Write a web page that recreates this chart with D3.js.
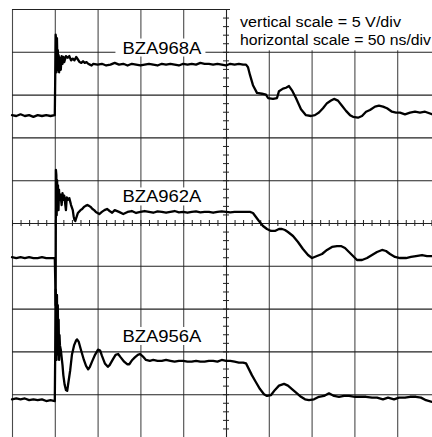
<!DOCTYPE html>
<html>
<head>
<meta charset="utf-8">
<script src="https://cdn.jsdelivr.net/npm/d3@7"></script>
<style>
  html, body { margin: 0; padding: 0; background: #fff; }
  svg { display: block; }
  text { font-family: "Liberation Sans", Arial, Helvetica, sans-serif; fill: #000; }
</style>
</head>
<body>
<svg id="chart" width="432" height="437"></svg>
<script>
// ---- Scope settings ----
const timePerDiv = 50;      // ns/div
const voltPerDiv = 5;       // V/div
const xDivs = 10, yDivs = 10;
const scaleNotes = ["vertical scale = 5 V/div", "horizontal scale = 50 ns/div"];
const traceNames = ["BZA968A", "BZA962A", "BZA956A"];

// ---- Waveforms: [time (ns), screen voltage (V, centre = 0)] ----
const traceBZA968A = [
  [0,12.6],[5,12.5],[10,12.7],[15,12.5],[20,12.6],[25,12.4],[30,12.6],[35,12.5],[40,12.6],[45,12.5],[50,12.6],
  [50.5,17.0],[51,22.0],[51.5,21.4],[52,17.6],[52.5,21.6],[53,19.0],[53.5,20.2],[54,17.9],[54.5,19.6],[55,17.6],
  [56,19.3],[57,17.9],[58,19.5],[59,18.6],[60,19.4],[61,18.8],
  [63,19.5],[65,19.3],[67,19.5],[69,19.0],[71,19.2],[73,19.0],[75,19.4],[77,19.1],[79,18.8],[81,18.7],[83,18.9],
  [85,18.7],[87,18.8],[89,18.6],[91,18.5],[93,18.4],[95,18.6],
  [100,18.5],[105,18.6],[110,18.4],[115,18.5],[120,18.7],[125,18.5],[130,18.6],[135,18.4],[140,18.6],[145,18.5],
  [150,18.4],[155,18.5],[160,18.6],[165,18.5],[170,18.4],[175,18.6],[180,18.5],[185,18.6],[190,18.5],[195,18.4],
  [200,18.6],[205,18.5],[210,18.6],[215,18.5],[220,18.7],[225,18.6],[230,18.6],[235,18.5],[240,18.6],[245,18.5],
  [250,18.4],[255,18.6],[260,18.5],[265,18.6],[270,18.5],
  [273.4,18.5],[275.7,18.2],[278,17.3],[281.5,16.1],[286.2,15.2],[292.1,15.1],[296.7,15.0],[299.1,14.6],[304.9,14.5],
  [309.6,14.6],[311.9,15.4],[316.6,15.7],[320.1,15.8],[323.6,16.0],[327.1,15.5],[331.7,14.6],[337.6,13.3],[343.4,12.6],
  [349.3,12.5],[353.9,12.6],[358.6,12.9],[363.3,13.4],[368,14.0],[372.7,14.3],[376.2,14.5],[380.8,14.3],[385.5,13.7],
  [390.2,13.1],[394.9,12.6],[398.4,12.4],[404.2,12.3],[408.9,12.5],[413.6,13.0],[418.2,13.2],[424.1,13.6],[428.7,13.7],
  [433.4,13.6],[438.1,13.4],[443.9,13.0],[448.6,12.9],[453.3,12.9],[459.1,12.7],[465,12.9],[470.8,13.0],[476.6,12.9],
  [482.5,13.0],[490.7,12.7],[500,12.8]
];

const traceBZA962A = [
  [0,-4.0],[5,-4.1],[10,-4.0],[15,-4.1],[20,-4.0],[25,-4.1],[30,-4.1],[35,-4.0],[40,-4.1],[45,-4.1],[50,-4.1],
  [50.5,-6.5],[51,-9.6],[51.3,6.2],[51.8,5.6],[52.2,0.9],[52.7,5.0],[53.2,2.1],[53.7,4.4],[54.3,1.5],[54.9,3.9],
  [55.5,2.7],[56.7,3.3],[58,2.1],[59,3.5],[60,2.7],[61,3.2],[63,1.5],[64,3.0],[65,2.7],[67,2.9],[68,2.5],[69,2.1],
  [71,1.5],[72,0.8],[73,0.35],[74,0.23],[75,0.58],[77,1.17],[80,1.5],[82,1.64],[84,1.87],[86,2.0],[88,2.1],[90,2.0],
  [92,1.87],[94,1.64],[96,1.5],[98,1.29],[100,1.17],[102,1.05],[105,1.3],[108,1.5],[111,1.64],[114,1.4],[117,1.2],
  [120,1.5],[125,1.3],[130,1.05],[135,1.29],[140,1.4],[145,1.17],[150,1.29],
  [155,1.4],[160,1.3],[165,1.2],[170,1.35],[175,1.3],[180,1.2],[185,1.3],[190,1.4],[195,1.25],[200,1.3],[205,1.2],
  [210,1.3],[215,1.35],[220,1.25],[225,1.3],[230,1.3],[235,1.2],[240,1.3],[245,1.35],[250,1.3],[255,1.25],[260,1.3],
  [265,1.3],[270,1.3],
  [278,1.29],[281.5,1.17],[285,0.7],[288.5,0.23],[293.2,-0.35],[297.9,-0.7],[302.6,-0.93],[307.2,-0.93],[311.9,-0.7],
  [315.4,-0.7],[318.9,-0.82],[322.4,-1.05],[328.3,-1.52],[334.1,-2.22],[339.9,-3.04],[345.8,-3.74],[350.5,-4.09],
  [356.3,-3.86],[362.2,-3.62],[368,-3.15],[373.8,-2.8],[379.7,-2.69],[384.3,-2.69],[389,-2.92],[393.7,-3.39],
  [398.4,-3.86],[403,-4.32],[408.9,-4.32],[414.8,-4.09],[420.6,-3.74],[426.4,-3.39],[432.3,-3.15],[436.9,-3.27],
  [441.6,-3.62],[447.4,-3.97],[453.3,-4.09],[460.3,-4.09],[466.1,-3.97],[471.9,-3.86],[479,-3.74],[484.8,-3.86],
  [490.7,-3.86],[500,-3.8]
];

const traceBZA956A = [
  [0,-20.6],[5,-20.5],[10,-20.6],[15,-20.5],[20,-20.7],[25,-20.6],[30,-20.7],[35,-20.6],[40,-20.8],[45,-20.7],[50,-20.8],
  [50.5,-15.0],[51,-7.8],[51.5,-9.0],[52,-16.0],[52.5,-8.4],[53,-14.3],[53.5,-9.6],[54,-15.4],[54.5,-11.3],[55,-16.0],
  [55.5,-13.1],[56,-14.3],[57,-14.8],[59,-16.6],[60,-17.8],[61.5,-18.9],[63,-19.5],[64.5,-19.6],[65.5,-18.9],[68,-17.2],
  [70,-15.4],[72.5,-14.3],[75,-13.7],[76,-13.6],[78,-13.9],[80.5,-14.8],[84,-16.0],[86.5,-16.7],[89,-17.1],[91,-16.8],
  [93.5,-16.2],[97,-15.4],[100.5,-14.8],[103,-14.9],[105,-15.5],[108.5,-16.4],[112,-16.8],[114,-16.6],[118,-15.9],
  [121,-15.4],[124,-15.3],[127,-15.7],[131,-16.2],[134.5,-16.5],[137,-16.5],[140.5,-16.0],[143.5,-15.7],[147,-15.4],
  [149.5,-15.3],[153,-15.6],[156.5,-16.0],[161,-16.1],
  [165,-16.0],[170,-16.1],[175,-16.1],[180,-16.0],[185,-16.1],[190,-16.2],[195,-16.1],[200,-16.1],[205,-16.2],
  [210,-16.2],[215,-16.1],[220,-16.2],[225,-16.2],[230,-16.1],[235,-16.1],[240,-16.2],[245,-16.0],[250,-16.1],
  [255,-16.1],[260,-16.2],[265,-16.3],[270,-16.3],
  [273.4,-16.4],[276.9,-17.1],[280.4,-17.8],[285,-18.6],[289.7,-19.4],[294.4,-20.0],[297.9,-20.2],[302.6,-20.1],
  [307.2,-19.5],[311.9,-19.0],[317.8,-18.8],[322.4,-19.0],[327.1,-19.4],[332.9,-19.9],[337.6,-20.3],[342.3,-20.6],
  [346.9,-20.7],[352.8,-20.6],[358.6,-20.3],[364.5,-20.2],[370.3,-19.9],[376.2,-20.2],[382,-20.3],[387.9,-20.2],
  [393.7,-20.2],[400.7,-20.3],[407.7,-20.3],[413.6,-20.3],[420.6,-20.4],[426.4,-20.4],[433.4,-20.6],[439.3,-20.4],
  [446.3,-20.6],[452.1,-20.4],[459.1,-20.4],[465,-20.3],[471.9,-20.3],[477.8,-20.4],[483.6,-20.7],[490.7,-20.9],[500,-21.0]
];

const traces = [traceBZA968A, traceBZA962A, traceBZA956A];
// label anchor positions in data units [time ns, volts] (baseline-left of label)
const labelTimes = [129, 129, 129];
const labelVolts = [19.8, 2.4, -13.9];

// ---- Layout ----
const svg = d3.select("#chart");
const plotLeft = 12, plotTop = 9, divPx = 42.8;
const x = d3.scaleLinear().domain([0, xDivs * timePerDiv]).range([plotLeft, plotLeft + xDivs * divPx]);
const y = d3.scaleLinear().domain([-yDivs / 2 * voltPerDiv, yDivs / 2 * voltPerDiv]).range([plotTop + yDivs * divPx, plotTop]);

const xMajor = d3.range(0, xDivs * timePerDiv + 1, timePerDiv);
const yMajor = d3.range(-yDivs / 2 * voltPerDiv, yDivs / 2 * voltPerDiv + 1, voltPerDiv);
const xMinor = d3.range(0, xDivs * timePerDiv + 0.01, timePerDiv / 5);
const yMinor = d3.range(-yDivs / 2 * voltPerDiv, yDivs / 2 * voltPerDiv + 0.01, voltPerDiv / 5);

// vertical grid lines via axis
const gx = svg.append("g").attr("transform", `translate(0,${y(-25)})`)
  .call(d3.axisBottom(x).tickValues(xMajor).tickSize(-(y(-25) - y(25))).tickFormat(""));
gx.select(".domain").remove();
gx.selectAll(".tick line").attr("stroke", "#4a4a4a").attr("stroke-width", 1.1);

// horizontal grid lines via axis
const gy = svg.append("g").attr("transform", `translate(${x(0)},0)`)
  .call(d3.axisLeft(y).tickValues(yMajor).tickSize(-(x(500) - x(0))).tickFormat(""));
gy.select(".domain").remove();
gy.selectAll(".tick line").attr("stroke", "#222").attr("stroke-width", 1.1);

// White boxes behind labels
svg.append("rect")
  .attr("x", x(0) + 218).attr("y", 0).attr("width", 432 - (x(0) + 218)).attr("height", y(20) - 1.5)
  .attr("fill", "#fff");

traceNames.forEach((n, i) => {
  svg.append("rect")
    .attr("x", x(labelTimes[i]) - 7).attr("y", y(labelVolts[i]) - 15)
    .attr("width", 90).attr("height", 18).attr("fill", "#fff");
});

// Centre axes with minor ticks
const cx = svg.append("g").attr("transform", `translate(0,${y(0)})`)
  .call(d3.axisBottom(x).tickValues(xMinor).tickSize(3).tickFormat(""));
cx.select(".domain").attr("stroke", "#222");
cx.selectAll(".tick line").attr("y1", -3).attr("y2", 3).attr("stroke", "#222");

const cy = svg.append("g").attr("transform", `translate(${x(250)},0)`)
  .call(d3.axisLeft(y).tickValues(yMinor).tickSize(3).tickFormat(""));
cy.select(".domain").attr("stroke", "#222");
cy.selectAll(".tick line").attr("x1", -3).attr("x2", 3).attr("stroke", "#222");

// Traces
const line = d3.line().x(d => x(d[0])).y(d => y(d[1]));
traces.forEach(tr => {
  svg.append("path").datum(tr).attr("d", line)
    .attr("fill", "none").attr("stroke", "#000").attr("stroke-width", 2.3)
    .attr("stroke-linejoin", "round").attr("stroke-linecap", "round");
});

// Labels
traceNames.forEach((n, i) => {
  svg.append("text").attr("x", x(labelTimes[i])).attr("y", y(labelVolts[i]))
    .attr("font-size", 17).attr("textLength", 79).attr("lengthAdjust", "spacingAndGlyphs")
    .text(n);
});

const noteLengths = [161, 191];
scaleNotes.forEach((s, i) => {
  svg.append("text").attr("x", 240).attr("y", 27 + i * 17.5)
    .attr("font-size", 14).attr("textLength", noteLengths[i]).attr("lengthAdjust", "spacingAndGlyphs")
    .text(s);
});
</script>
</body>
</html>
